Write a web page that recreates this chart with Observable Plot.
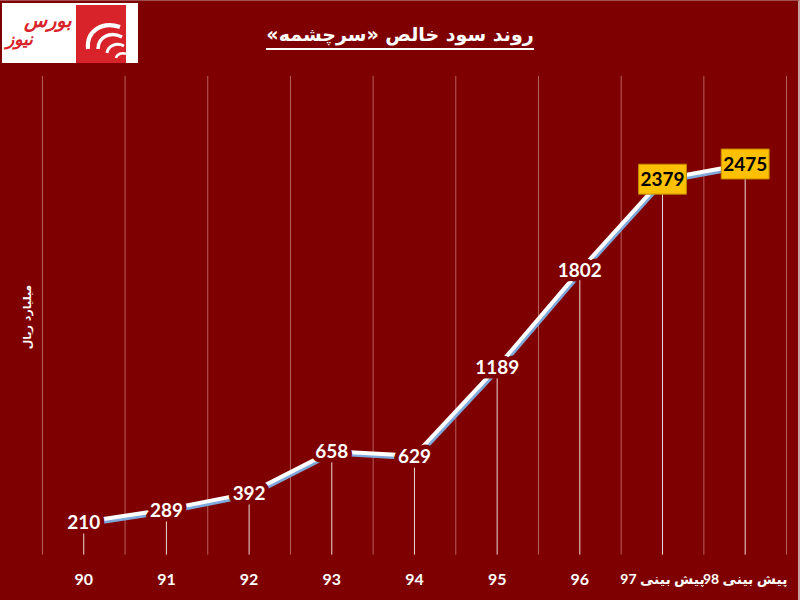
<!DOCTYPE html>
<html>
<head>
<meta charset="utf-8">
<script src="https://cdn.jsdelivr.net/npm/d3@7"></script>
<script src="https://cdn.jsdelivr.net/npm/@observablehq/plot@0.6"></script>
<style>
  html, body { margin: 0; padding: 0; background: #7f0000; }
  #wrap { position: relative; width: 800px; height: 600px; background: #7f0000; overflow: hidden; box-sizing: border-box; border-right: 2px solid #c9a0a0; border-top: 1px solid #a05050; }
  #title { position: absolute; left: 0; width: 800px; top: 22px; text-align: center; direction: rtl;
    font-family: "DejaVu Sans", sans-serif; font-weight: bold; font-size: 19px; color: #fff; }
  #title span { border-bottom: 2px solid #fff; padding-bottom: 3px; }
  #logo { position: absolute; left: 2px; top: 2px; width: 136px; height: 60px; background: #fff; }
  #logo .w1 { position: absolute; left: 22px; top: 6px; direction: rtl;
    font-family: "DejaVu Sans", sans-serif; font-weight: bold; font-style: italic; font-size: 19px; color: #d8232a; }
  #logo .w2 { position: absolute; left: 4px; top: 26px; direction: rtl;
    font-family: "DejaVu Sans", sans-serif; font-weight: bold; font-style: italic; font-size: 17px; color: #d8232a; }
  #logo svg { position: absolute; left: 74px; top: 2px; }
  #ylab { position: absolute; left: 27px; top: 316px; transform: translate(-50%, -50%) rotate(-90deg);
    white-space: nowrap; direction: rtl; font-family: "DejaVu Sans", sans-serif; font-weight: bold; font-size: 11px; color: #fff; }
  #chart { position: absolute; left: 0; top: 0; }
  #chart g[aria-label="x-axis tick label"] text { direction: rtl; unicode-bidi: plaintext; }
</style>
</head>
<body>
<div id="wrap">
  <div id="chart"></div>
  <div id="logo">
    <div class="w1">بورس</div>
    <div class="w2">نیوز</div>
    <svg width="50" height="58" viewBox="0 0 50 58">
      <rect x="0" y="0" width="50" height="58" fill="#d8232a"/>
      <path d="M44 22 C26 16 10 26 12 44" stroke="#fff" stroke-width="4" fill="none"/>
      <path d="M46 32 C34 26 22 32 22 44" stroke="#fff" stroke-width="3.5" fill="none"/>
      <path d="M48 41 C40 37 32 41 31 48" stroke="#fff" stroke-width="3" fill="none"/>
      <path d="M50 49 C46 47 41 49 40 53" stroke="#fff" stroke-width="2.5" fill="none"/>
    </svg>
  </div>
  <div id="title"><span>روند سود خالص «سرچشمه»</span></div>
  <div id="ylab">میلیارد ریال</div>
</div>
<script>
const categories = ["90", "91", "92", "93", "94", "95", "96", "پیش بینی 97", "پیش بینی 98"];
const values = [210, 289, 392, 658, 629, 1189, 1802, 2379, 2475];
const forecast = [false, false, false, false, false, false, false, true, true];

const bg = "#7f0000";
const data = categories.map((c, i) => ({i, c, v: values[i], f: forecast[i]}));
const bounds = d3.range(categories.length + 1).map(i => i - 0.5);

const boxSymbol = { draw(ctx) { ctx.rect(-24, -15, 48, 30); } };

const chart = Plot.plot({
  width: 800,
  height: 600,
  marginLeft: 42,
  marginRight: 12,
  marginTop: 75,
  marginBottom: 45,
  style: { background: "transparent", overflow: "visible" },
  x: { type: "linear", domain: [-0.5, categories.length - 0.5], axis: null },
  y: { domain: [0, 3030], axis: null },
  marks: [
    Plot.ruleX(bounds, { x: d => d, stroke: "#e8b0b0", strokeOpacity: 0.55, strokeWidth: 1 }),
    Plot.ruleX(data, { x: "i", y1: 0, y2: "v", stroke: "#ffffff", strokeOpacity: 0.85, strokeWidth: 1 }),
    Plot.line(data, { x: "i", y: "v", stroke: "#7fa8dc", strokeWidth: 5, dx: 1, dy: 2 }),
    Plot.line(data, { x: "i", y: "v", stroke: "#ffffff", strokeWidth: 4 }),
    Plot.text(data.filter(d => !d.f), { x: "i", y: "v", text: d => String(d.v),
      fill: "#fff", stroke: bg, strokeWidth: 9, fontSize: 19, fontWeight: "bold",
      fontFamily: "Lato, 'Open Sans', sans-serif", dy: 1 }),
    Plot.dot(data.filter(d => d.f), { x: "i", y: "v", symbol: boxSymbol, r: 10,
      fill: "#ffc000", stroke: "#c08a00", strokeWidth: 1 }),
    Plot.text(data.filter(d => d.f), { x: "i", y: "v", text: d => String(d.v),
      fill: "#000", fontSize: 19, fontWeight: "bold", fontFamily: "Lato, 'Open Sans', sans-serif", dy: 1 }),
    Plot.axisX(d3.range(categories.length).filter(i => !forecast[i]), { tickFormat: i => categories[i], tickSize: 0, tickPadding: 0,
      dy: 19, fontSize: 16, fontWeight: "bold", fontFamily: "Lato, 'DejaVu Sans', sans-serif", fill: "#fff", label: null }),
    Plot.axisX(d3.range(categories.length).filter(i => forecast[i]), { tickFormat: i => categories[i], tickSize: 0, tickPadding: 0,
      dy: 19, fontSize: 14, fontWeight: "bold", fontFamily: "Lato, 'DejaVu Sans', sans-serif", fill: "#fff", label: null })
  ]
});
document.getElementById("chart").appendChild(chart);
</script>
</body>
</html>
